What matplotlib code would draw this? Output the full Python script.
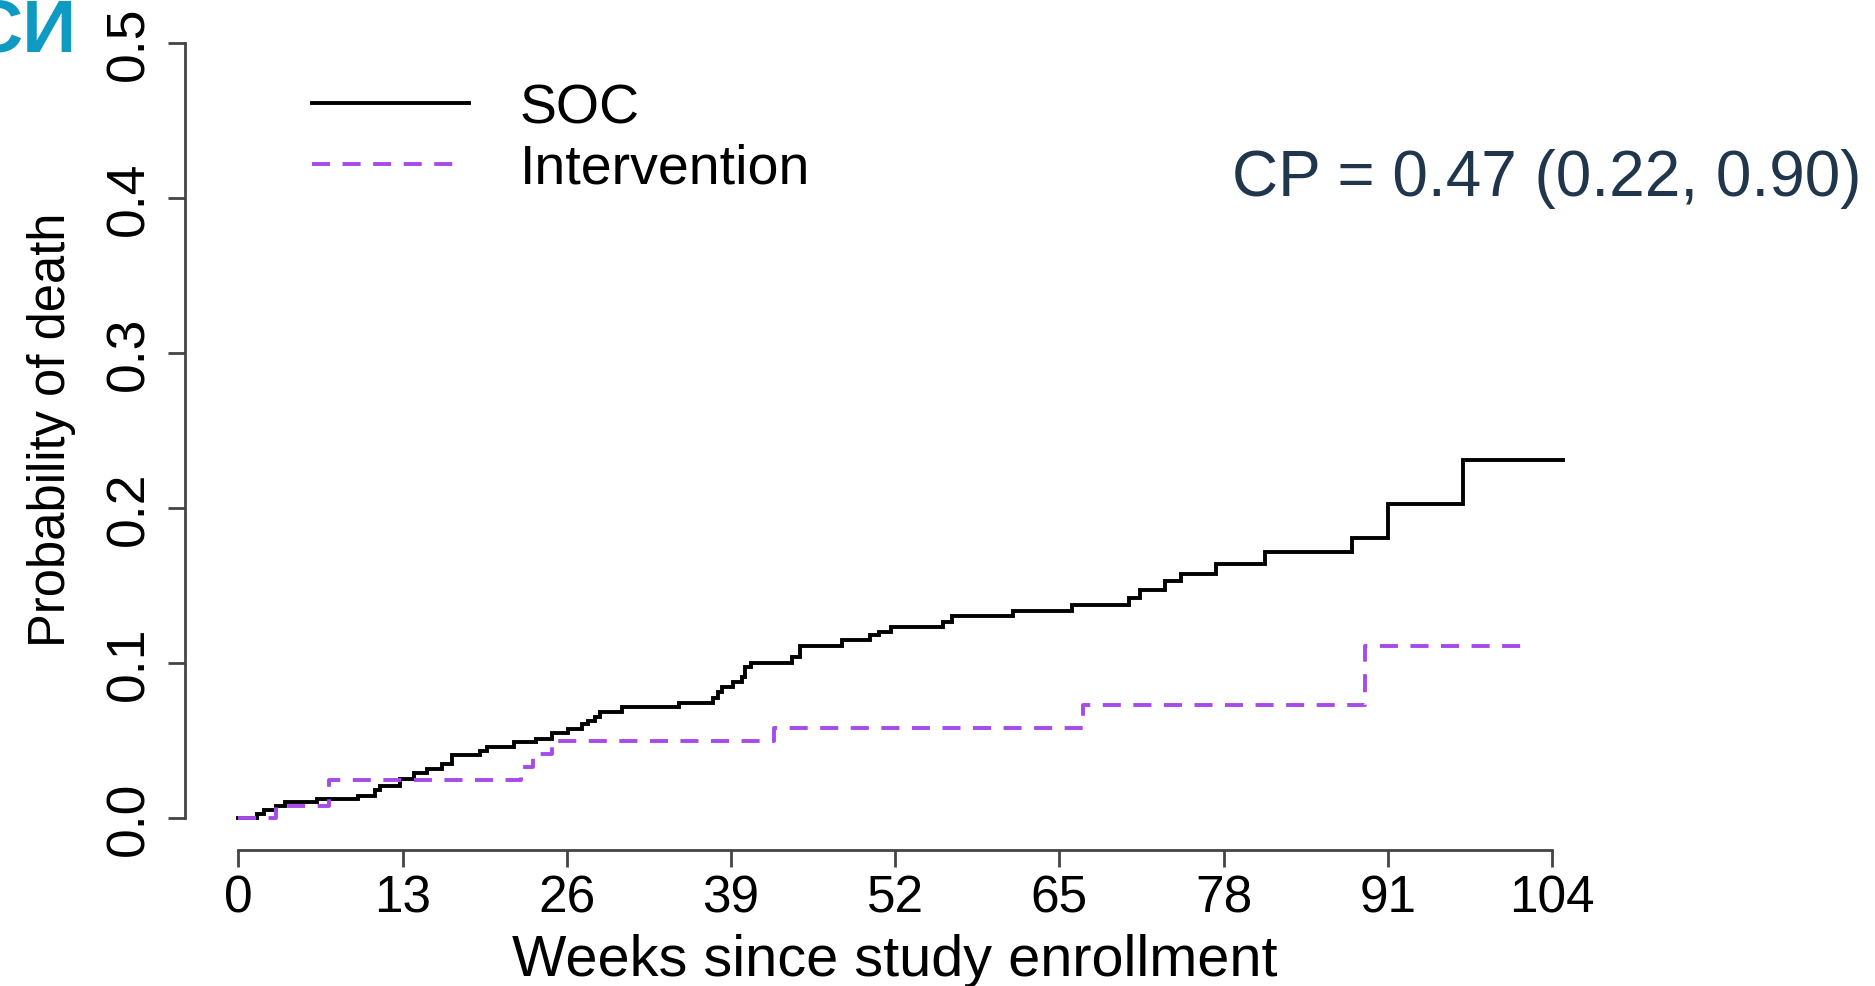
import matplotlib
matplotlib.use("Agg")
import matplotlib.pyplot as plt
import numpy as np

plt.rcParams['font.family'] = ['Liberation Sans', 'DejaVu Sans']
plt.rcParams['lines.scale_dashes'] = False

# ---- data (weeks, cumulative probability of death) ----
soc_weeks = [0, 1.45, 2.0, 3.0, 3.7, 6.2, 9.5, 10.8, 11.2, 12.8, 13.9, 14.9, 16.1,
             16.9, 19.1, 19.7, 21.8, 23.6, 24.8, 26.1, 27.2, 27.7, 28.2, 28.6, 30.4,
             34.9, 37.6, 38.0, 38.3, 39.2, 39.9, 40.1, 40.6, 43.8, 44.5, 47.8, 50.0,
             50.7, 51.7, 55.8, 56.5, 61.3, 66.0, 70.5, 71.4, 73.4, 74.6, 77.4, 81.3,
             88.2, 91.0, 96.95, 104.9]
soc_prob = [0, 0.0026, 0.0054, 0.0079, 0.0101, 0.0123, 0.0144, 0.0183, 0.0208, 0.0252,
            0.0288, 0.0316, 0.0348, 0.0404, 0.0434, 0.0460, 0.0490, 0.0512, 0.0550,
            0.0574, 0.0606, 0.0628, 0.0650, 0.0682, 0.0718, 0.0742, 0.0775, 0.0810,
            0.0843, 0.0875, 0.0908, 0.0972, 0.1003, 0.1037, 0.1112, 0.1150, 0.1180,
            0.1202, 0.1234, 0.1266, 0.1301, 0.1335, 0.1376, 0.1420, 0.1473, 0.1527,
            0.1574, 0.1639, 0.1714, 0.1805, 0.2026, 0.2310, 0.2310]

int_weeks = [0, 3.0, 7.2, 22.4, 23.3, 24.8, 42.4, 66.9, 89.2, 101.7]
int_prob = [0, 0.0075, 0.0245, 0.033, 0.041, 0.0495, 0.0582, 0.0729, 0.1108, 0.1108]

x_ticks = [0, 13, 26, 39, 52, 65, 78, 91, 104]
y_ticks = [0.0, 0.1, 0.2, 0.3, 0.4, 0.5]
y_tick_labels = ["0.0", "0.1", "0.2", "0.3", "0.4", "0.5"]

W, H, DPI = 1875, 987, 100
fig = plt.figure(figsize=(W / DPI, H / DPI), dpi=DPI)
px = 72.0 / DPI  # points per pixel

# axes placement in pixels
x0_px, x1_px = 238.3, 1552.0
y0_px, y1_px = 819.0, 44.0
ax = fig.add_axes([x0_px / W, (H - y0_px) / H, (x1_px - x0_px) / W, (y0_px - y1_px) / H])
ax.set_xlim(0, 104)
ax.set_ylim(0, 0.5)
ax.patch.set_alpha(0)

purple = '#A64BEA'
line_w = 2.8
dash = (13.0, 9.0)
ax.plot(soc_weeks, soc_prob, drawstyle='steps-post', color='black', lw=line_w,
        clip_on=False, solid_joinstyle='miter')
ax.plot(int_weeks, int_prob, drawstyle='steps-post', color=purple, lw=line_w,
        clip_on=False, dashes=dash)

# R-style detached axes
for s in ['top', 'right']:
    ax.spines[s].set_visible(False)
spine_col = '#444444'
ax.spines['left'].set_position(('outward', (x0_px - 185) * px))
ax.spines['bottom'].set_position(('outward', (851 - y0_px) * px))
ax.spines['left'].set_bounds(0, 0.5)
ax.spines['bottom'].set_bounds(0, 104)
for s in ['left', 'bottom']:
    ax.spines[s].set_color(spine_col)
    ax.spines[s].set_linewidth(2.0)

ax.set_xticks(x_ticks)
ax.set_xticklabels([str(t) for t in x_ticks])
ax.set_yticks(y_ticks)
ax.set_yticklabels(y_tick_labels)
ax.tick_params(axis='both', length=17 * px, width=2.0, color=spine_col, labelsize=37)
ax.tick_params(axis='x', pad=7 * px)
ax.tick_params(axis='y', pad=14 * px)
for lab in ax.get_yticklabels():
    lab.set_rotation(90)
    lab.set_va('center')
    lab.set_fontsize(38.5)

# axis titles
fig.text(895 / W, (H - 976) / H, "Weeks since study enrollment", ha='center',
         va='baseline', fontsize=41.5, color='black')
fig.text(76 / W, (H - 430) / H, "Probability of death", ha='right', va='center',
         rotation=90, fontsize=36.5, color='black')

# legend (manual, R-style)
fig.lines.append(plt.Line2D([312 / W, 469 / W], [(H - 104) / H, (H - 104) / H],
                            transform=fig.transFigure, color='black', lw=line_w))
fig.lines.append(plt.Line2D([312 / W, 462 / W], [(H - 165) / H, (H - 165) / H],
                            transform=fig.transFigure, color=purple, lw=line_w,
                            dashes=dash))
fig.text(520 / W, (H - 124) / H, "SOC", ha='left', va='baseline', fontsize=40)
fig.text(520 / W, (H - 184) / H, "Intervention", ha='left', va='baseline', fontsize=40)

# annotation
fig.text(1232 / W, (H - 196) / H, "CP = 0.47 (0.22, 0.90)", ha='left', va='baseline',
         fontsize=46, color='#20364C')

# cut-off slide title fragment at top-left (partially outside the frame, as in the source)
fig.text(77 / W, (H - 52) / H, "СИ", ha='right', va='baseline', fontsize=54,
         fontweight='bold', color='#0F9AC4')

fig.savefig("out.png", dpi=DPI)
